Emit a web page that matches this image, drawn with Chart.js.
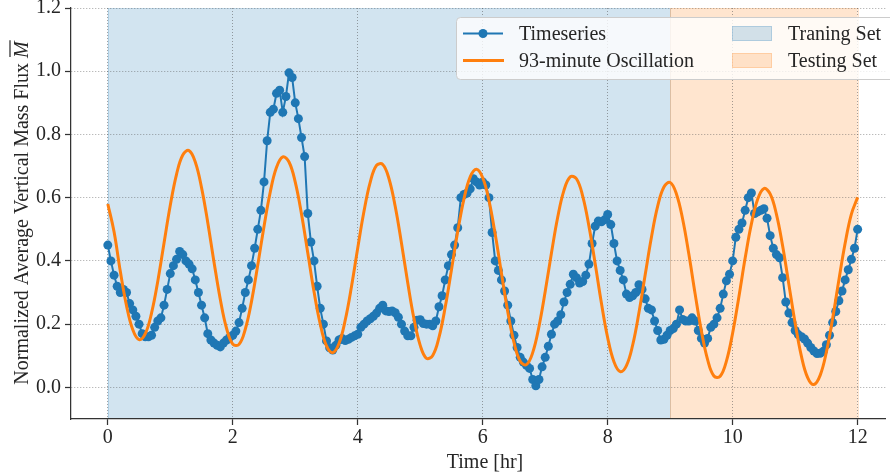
<!DOCTYPE html>
<html><head><meta charset="utf-8">
<script src="https://cdn.jsdelivr.net/npm/chart.js@4.4.0/dist/chart.umd.min.js"></script>
<style>html,body{margin:0;padding:0;background:#fff;overflow:hidden}#wrap{width:890px;height:476px}</style>
</head><body><div id="wrap"><canvas id="c" width="890" height="476"></canvas></div>
<script>
// ---------- data ----------
const seriesTime = [0,0.05,0.1,0.15,0.2,0.25,0.3,0.35,0.4,0.45,
0.5,0.55,0.6,0.65,0.7,0.75,0.8,0.85,0.9,0.95,
1,1.05,1.1,1.15,1.2,1.25,1.3,1.35,1.4,1.45,
1.5,1.55,1.6,1.65,1.7,1.75,1.8,1.85,1.9,1.95,
2,2.05,2.1,2.15,2.2,2.25,2.3,2.35,2.4,2.45,
2.5,2.55,2.6,2.65,2.7,2.75,2.8,2.85,2.9,2.95,
3,3.05,3.1,3.15,3.2,3.25,3.3,3.35,3.4,3.45,
3.5,3.55,3.6,3.65,3.7,3.75,3.8,3.85,3.9,3.95,
4,4.05,4.1,4.15,4.2,4.25,4.3,4.35,4.4,4.45,
4.5,4.55,4.6,4.65,4.7,4.75,4.8,4.85,4.9,4.95,
5,5.05,5.1,5.15,5.2,5.25,5.3,5.35,5.4,5.45,
5.5,5.55,5.6,5.65,5.7,5.75,5.8,5.85,5.9,5.95,
6,6.05,6.1,6.15,6.2,6.25,6.3,6.35,6.4,6.45,
6.5,6.55,6.6,6.65,6.7,6.75,6.8,6.85,6.9,6.95,
7,7.05,7.1,7.15,7.2,7.25,7.3,7.35,7.4,7.45,
7.5,7.55,7.6,7.65,7.7,7.75,7.8,7.85,7.9,7.95,
8,8.05,8.1,8.15,8.2,8.25,8.3,8.35,8.4,8.45,
8.5,8.55,8.6,8.65,8.7,8.75,8.8,8.85,8.9,8.95,
9,9.05,9.1,9.15,9.2,9.25,9.3,9.35,9.4,9.45,
9.5,9.55,9.6,9.65,9.7,9.75,9.8,9.85,9.9,9.95,
10,10.05,10.1,10.15,10.2,10.25,10.3,10.35,10.4,10.45,
10.5,10.55,10.6,10.65,10.7,10.75,10.8,10.85,10.9,10.95,
11,11.05,11.1,11.15,11.2,11.25,11.3,11.35,11.4,11.45,
11.5,11.55,11.6,11.65,11.7,11.75,11.8,11.85,11.9,11.95,
12];
const seriesValues = [0.45,0.40,0.355,0.32,0.30,0.31,0.30,0.265,0.245,0.225,
0.20,0.17,0.16,0.16,0.165,0.19,0.21,0.22,0.26,0.31,
0.36,0.385,0.405,0.43,0.42,0.40,0.39,0.375,0.34,0.30,
0.26,0.22,0.17,0.15,0.14,0.133,0.128,0.14,0.15,0.158,
0.165,0.178,0.205,0.25,0.30,0.34,0.385,0.44,0.50,0.56,
0.65,0.78,0.87,0.88,0.93,0.94,0.87,0.92,0.995,0.98,
0.90,0.85,0.79,0.73,0.55,0.46,0.40,0.32,0.25,0.20,
0.147,0.125,0.118,0.133,0.15,0.155,0.148,0.152,0.158,0.163,
0.168,0.19,0.20,0.21,0.217,0.225,0.235,0.25,0.26,0.242,
0.24,0.242,0.236,0.222,0.20,0.178,0.163,0.163,0.19,0.212,
0.214,0.202,0.20,0.20,0.195,0.21,0.255,0.29,0.34,0.385,
0.42,0.45,0.505,0.60,0.61,0.615,0.628,0.66,0.65,0.64,
0.65,0.64,0.60,0.49,0.40,0.37,0.34,0.305,0.26,0.21,
0.165,0.126,0.095,0.08,0.07,0.06,0.025,0.005,0.025,0.065,
0.095,0.13,0.168,0.20,0.21,0.23,0.27,0.30,0.326,0.358,
0.347,0.33,0.335,0.355,0.39,0.455,0.51,0.526,0.524,0.53,
0.547,0.515,0.455,0.40,0.37,0.34,0.295,0.284,0.29,0.30,
0.325,0.31,0.28,0.25,0.245,0.21,0.18,0.15,0.152,0.165,
0.18,0.186,0.20,0.245,0.215,0.21,0.21,0.22,0.21,0.18,
0.155,0.14,0.155,0.19,0.20,0.22,0.25,0.295,0.337,0.358,
0.40,0.475,0.50,0.52,0.56,0.60,0.615,0.55,0.555,0.56,
0.565,0.535,0.48,0.44,0.42,0.41,0.347,0.27,0.235,0.205,
0.18,0.167,0.16,0.153,0.14,0.126,0.115,0.107,0.108,0.114,
0.135,0.165,0.205,0.24,0.274,0.305,0.34,0.372,0.405,0.44,
0.50];
const oscTime = [0,0.1,0.2,0.3,0.4,0.5,0.6,0.7,0.8,0.9,
1,1.1,1.2,1.3,1.4,1.5,1.6,1.7,1.8,1.9,
2,2.1,2.2,2.3,2.4,2.5,2.6,2.7,2.8,2.9,
3,3.1,3.2,3.3,3.4,3.5,3.6,3.7,3.8,3.9,
4,4.1,4.2,4.3,4.4,4.5,4.6,4.7,4.8,4.9,
5,5.1,5.2,5.3,5.4,5.5,5.6,5.7,5.8,5.9,
6,6.1,6.2,6.3,6.4,6.5,6.6,6.7,6.8,6.9,
7,7.1,7.2,7.3,7.4,7.5,7.6,7.7,7.8,7.9,
8,8.1,8.2,8.3,8.4,8.5,8.6,8.7,8.8,8.9,
9,9.1,9.2,9.3,9.4,9.5,9.6,9.7,9.8,9.9,
10,10.1,10.2,10.3,10.4,10.5,10.6,10.7,10.8,10.9,
11,11.1,11.2,11.3,11.4,11.5,11.6,11.7,11.8,11.9,
12];
const oscValues = [0.58,0.492,0.367,0.258,0.182,0.151,0.170,0.235,0.336,0.457,
0.576,0.674,0.735,0.749,0.713,0.632,0.521,0.396,0.279,0.187,
0.137,0.136,0.184,0.272,0.387,0.509,0.618,0.696,0.729,0.713,
0.649,0.548,0.426,0.303,0.200,0.131,0.110,0.139,0.213,0.319,
0.441,0.557,0.649,0.702,0.705,0.660,0.572,0.456,0.331,0.217,
0.133,0.092,0.101,0.158,0.254,0.372,0.493,0.596,0.666,0.690,
0.663,0.591,0.484,0.361,0.240,0.142,0.083,0.072,0.110,0.192,
0.303,0.425,0.538,0.623,0.666,0.660,0.605,0.510,0.391,0.266,
0.157,0.081,0.050,0.069,0.134,0.236,0.356,0.475,0.573,0.634,
0.648,0.612,0.532,0.420,0.295,0.178,0.087,0.036,0.035,0.083,
0.172,0.287,0.409,0.517,0.595,0.629,0.612,0.548,0.447,0.325,
0.203,0.099,0.031,0.009,0.038,0.112,0.218,0.340,0.456,0.548,
0.601];
const xTickValues = [0,2,4,6,8,10,12];
const yTickValues = [0,0.2,0.4,0.6,0.8,1.0,1.2];
const trainingSpan = [0,9];
const testingSpan = [9,12];
const xTitle = 'Time [hr]';
const yTitle = 'Normalized Average Vertical Mass Flux ';
const yTitleSymbol = 'M';
const seriesNames = ['Timeseries','93-minute Oscillation'];
const spanNames = ['Traning Set','Testing Set'];

// ---------- styles ----------
const BLUE = '#1f77b4', ORANGE = '#ff7f0e';
const BLUE_A = 'rgba(31,119,180,0.2)', ORANGE_A = 'rgba(255,127,14,0.2)';
const FONT = '"Liberation Serif", "DejaVu Serif", serif';
const TXT = '#262626';

const spansPlugin = {
  id: 'spans',
  beforeDraw(chart) {
    const {ctx, chartArea: a, scales: {x}} = chart;
    ctx.save();
    ctx.beginPath(); ctx.rect(a.left, a.top, a.right - a.left, a.bottom - a.top); ctx.clip();
    [[trainingSpan, BLUE_A], [testingSpan, ORANGE_A]].forEach(([s, c]) => {
      const x1 = x.getPixelForValue(s[0]), x2 = x.getPixelForValue(s[1]);
      ctx.fillStyle = c; ctx.fillRect(x1, a.top, x2 - x1, a.bottom - a.top);
      ctx.strokeStyle = c; ctx.lineWidth = 1;
      ctx.strokeRect(Math.round(x1) + 0.5, a.top, Math.round(x2) - Math.round(x1), a.bottom - a.top);
    });
    ctx.restore();
  }
};

const decorPlugin = {
  id: 'decor',
  afterDraw(chart) {
    const {ctx} = chart;
    ctx.save();
    // x title
    ctx.fillStyle = TXT; ctx.font = '20px ' + FONT;
    ctx.textAlign = 'center'; ctx.textBaseline = 'alphabetic';
    ctx.fillText(xTitle, 485, 468);
    // y title (rotated) with overlined italic M
    ctx.translate(22, 213); ctx.rotate(-Math.PI / 2);
    ctx.font = '20px ' + FONT;
    const w1 = ctx.measureText(yTitle).width;
    ctx.font = 'italic 20px ' + FONT;
    const w2 = ctx.measureText(yTitleSymbol).width;
    const start = -(w1 + w2) / 2;
    ctx.textAlign = 'left';
    ctx.font = '20px ' + FONT;
    ctx.fillText(yTitle, start, 6);
    ctx.font = 'italic 20px ' + FONT;
    ctx.fillText(yTitleSymbol, start + w1, 6);
    ctx.strokeStyle = TXT; ctx.lineWidth = 1.2;
    ctx.beginPath(); ctx.moveTo(start + w1 + 1, -12); ctx.lineTo(start + w1 + w2 + 1, -12); ctx.stroke();
    ctx.restore();

    // legend
    ctx.save();
    const bx = 456.5, by = 17.5, bw = 440, bh = 62;
    ctx.fillStyle = 'rgba(255,255,255,0.8)';
    ctx.strokeStyle = '#cccccc'; ctx.lineWidth = 1;
    ctx.beginPath(); ctx.roundRect(bx, by, bw, bh, 4); ctx.fill(); ctx.stroke();
    const rows = [33.5, 60.5];
    ctx.strokeStyle = BLUE; ctx.lineWidth = 2;
    ctx.beginPath(); ctx.moveTo(463, rows[0]); ctx.lineTo(503, rows[0]); ctx.stroke();
    ctx.fillStyle = BLUE; ctx.beginPath(); ctx.arc(483, rows[0], 4.5, 0, Math.PI * 2); ctx.fill();
    ctx.strokeStyle = ORANGE; ctx.lineWidth = 3;
    ctx.beginPath(); ctx.moveTo(463, rows[1]); ctx.lineTo(504, rows[1]); ctx.stroke();
    [[BLUE_A, rows[0]], [ORANGE_A, rows[1]]].forEach(([c, y]) => {
      ctx.fillStyle = c; ctx.fillRect(732, y - 7.5, 40, 15);
      ctx.strokeStyle = c; ctx.lineWidth = 1; ctx.strokeRect(732.5, y - 7, 39, 14);
    });
    ctx.fillStyle = TXT; ctx.font = '20px ' + FONT; ctx.textAlign = 'left'; ctx.textBaseline = 'alphabetic';
    ctx.fillText(seriesNames[0], 519, rows[0] + 6);
    ctx.fillText(seriesNames[1], 519, rows[1] + 6);
    ctx.fillText(spanNames[0], 788, rows[0] + 6);
    ctx.fillText(spanNames[1], 788, rows[1] + 6);
    ctx.restore();
  }
};

const gridStyle = {color: 'rgba(90,90,90,0.55)', lineWidth: 1, drawTicks: true, tickLength: 6,
  tickColor: '#333333', tickWidth: 1.25, tickBorderDash: []};
const borderStyle = {display: true, color: '#333333', width: 1.25, dash: [1, 2]};

new Chart(document.getElementById('c'), {
  type: 'line',
  data: {
    datasets: [
      {label: seriesNames[1], data: oscTime.map((t, i) => ({x: t, y: oscValues[i]})),
       borderColor: ORANGE, borderWidth: 3, pointRadius: 0, tension: 0.4, order: 0, fill: false},
      {label: seriesNames[0], data: seriesTime.map((t, i) => ({x: t, y: seriesValues[i]})),
       borderColor: BLUE, backgroundColor: BLUE, borderWidth: 2, pointRadius: 4.5, pointBorderWidth: 0,
       pointBackgroundColor: BLUE, tension: 0, order: 1, fill: false}
    ]
  },
  options: {
    responsive: false, animation: false, events: [],
    layout: {padding: {top: 8, right: 0, left: 0, bottom: 0}},
    plugins: {legend: {display: false}, tooltip: {enabled: false}, title: {display: false}},
    scales: {
      x: {type: 'linear', min: -0.589, max: 12.446,
        afterBuildTicks: s => { s.ticks = xTickValues.map(v => ({value: v})); },
        afterFit: s => { s.height = 57; s.paddingLeft = 0; s.paddingRight = 0; },
        ticks: {font: {family: FONT, size: 20}, color: TXT, padding: 1, maxRotation: 0,
          callback: v => String(v)},
        grid: gridStyle, border: borderStyle},
      y: {type: 'linear', min: -0.1, max: 1.2,
        afterBuildTicks: s => { s.ticks = yTickValues.map(v => ({value: v})); },
        afterFit: s => { s.width = 71; s.paddingTop = 0; s.paddingBottom = 0; },
        ticks: {font: {family: FONT, size: 20}, color: TXT, padding: 4,
          callback: v => Number(v).toFixed(1)},
        grid: gridStyle, border: borderStyle}
    }
  },
  plugins: [spansPlugin, decorPlugin]
});
</script></body></html>
